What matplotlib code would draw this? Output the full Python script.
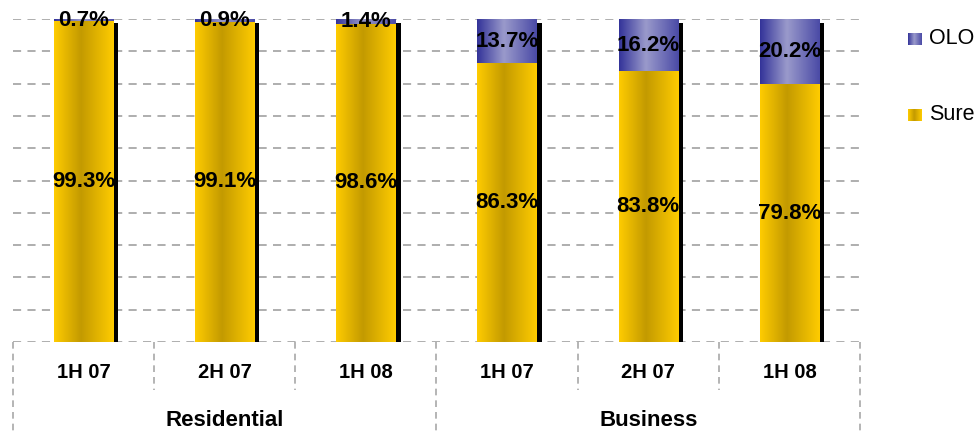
import numpy as np
import matplotlib
matplotlib.use("Agg")
import matplotlib.pyplot as plt
from matplotlib.transforms import ScaledTranslation
from matplotlib.patches import Rectangle
from matplotlib.colors import LinearSegmentedColormap

# Data
periods = ["1H 07", "2H 07", "1H 08", "1H 07", "2H 07", "1H 08"]
groups = ["Residential", "Business"]
group_sizes = [3, 3]
sure = [99.3, 99.1, 98.6, 86.3, 83.8, 79.8]
olo = [0.7, 0.9, 1.4, 13.7, 16.2, 20.2]
series_names = ["OLO", "Sure"]

plt.rcParams["font.family"] = ["Liberation Sans", "DejaVu Sans"]

W, H = 977, 434
fig = plt.figure(figsize=(W / 100, H / 100), dpi=100)
ax = fig.add_axes([13 / W, 1 - 342 / H, (860 - 13) / W, (342 - 19) / H])
ax.set_xlim(-0.5, len(periods) - 0.5)
ax.set_ylim(0, 100)
ax.axis("off")

sure_cmap = LinearSegmentedColormap.from_list(
    "sure", [(0, "#FFCC00"), (0.45, "#C39A00"), (1, "#FFCC00")])
olo_cmap = LinearSegmentedColormap.from_list(
    "olo", [(0, "#333399"), (0.45, "#9A9ACB"), (1, "#4A4AA6")])
grad = np.linspace(0, 1, 256).reshape(1, -1)

grid_color = "#A8A8A8"
for yv in range(0, 101, 10):
    ax.axhline(yv, color=grid_color, lw=1.3, linestyle=(0, (4.5, 3.5)), zorder=0)

x = np.arange(len(periods))
bw = 0.42
totals = np.array(sure) + np.array(olo)

# drop shadow behind each stacked bar
shadow_tf = ax.transData + ScaledTranslation(5 / 100, -4 / 100, fig.dpi_scale_trans)
for xi, t in zip(x, totals):
    ax.add_patch(Rectangle((xi - bw / 2, 0), bw, t, facecolor="black",
                           edgecolor="none", transform=shadow_tf, zorder=1))


def gradient_bar(xc, bottom, height, cmap):
    rect = Rectangle((xc - bw / 2, bottom), bw, height, facecolor="none",
                     edgecolor="none", zorder=2)
    ax.add_patch(rect)
    im = ax.imshow(grad, cmap=cmap, aspect="auto", interpolation="bilinear",
                   extent=[xc - bw / 2, xc + bw / 2, bottom, bottom + height],
                   zorder=2)
    im.set_clip_path(rect)


for xi, s, o in zip(x, sure, olo):
    gradient_bar(xi, 0, s, sure_cmap)
    gradient_bar(xi, s, o, olo_cmap)
    ax.text(xi, s / 2, f"{s:.1f}%", ha="center", va="center",
            fontsize=16, fontweight="bold", zorder=5)
    ax.text(xi, s + o / 2, f"{o:.1f}%", ha="center", va="center",
            fontsize=16, fontweight="bold", zorder=5)

ax.set_xlim(-0.5, len(periods) - 0.5)
ax.set_ylim(0, 100)

# category axis below the plot
xt = ax.get_xaxis_transform()
short_y = -(390 - 342) / 323
long_y = -(434 - 342) / 323
bounds = np.arange(len(periods) + 1) - 0.5
group_edges = np.concatenate([[0], np.cumsum(group_sizes)]) - 0.5
for b in bounds:
    y_end = long_y if np.any(np.isclose(b, group_edges)) else short_y
    ax.plot([b, b], [0, y_end], transform=xt, color=grid_color, lw=1.2,
            linestyle=(0, (4.0, 3.0)), clip_on=False, zorder=0)

for xi, lab in zip(x, periods):
    ax.text(xi, -(372 - 342) / 323, lab, transform=xt, ha="center", va="center",
            fontsize=14.5, fontweight="bold")

start = 0
for g, n in zip(groups, group_sizes):
    ax.text(start + (n - 1) / 2, -(420 - 342) / 323, g, transform=xt,
            ha="center", va="center", fontsize=16, fontweight="bold")
    start += n

# legend
for name, cmap, yc in [("OLO", olo_cmap, 39), ("Sure", sure_cmap, 115)]:
    lax = fig.add_axes([908 / W, 1 - (yc + 6.5) / H, 13 / W, 13 / H])
    lax.imshow(grad, cmap=cmap, aspect="auto", interpolation="bilinear")
    lax.axis("off")
    fig.text(929 / W, 1 - yc / H, name, ha="left", va="center", fontsize=15.5)

fig.savefig("out.png", dpi=100)
